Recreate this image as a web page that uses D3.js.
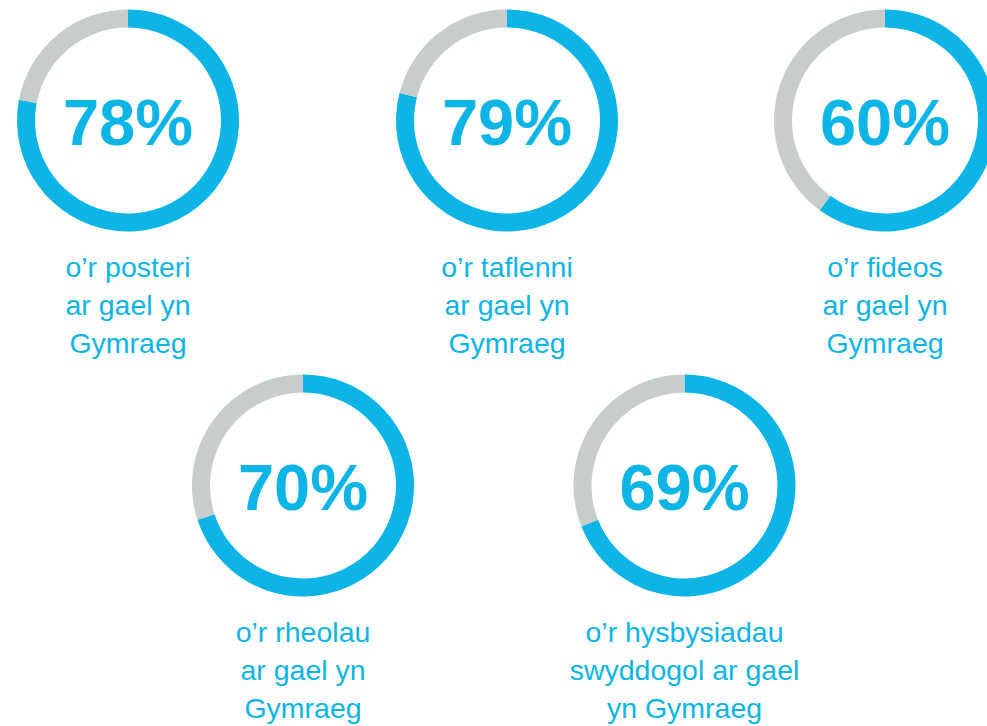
<!DOCTYPE html>
<html>
<head>
<meta charset="utf-8">
<script src="https://cdn.jsdelivr.net/npm/d3@7"></script>
<style>
  html, body { margin: 0; padding: 0; background: #ffffff; }
  svg { display: block; }
</style>
</head>
<body>
<svg id="chart" width="987" height="726"></svg>
<script>
// Share of materials available in Welsh
const categories = ["posteri", "taflenni", "fideos", "rheolau", "hysbysiadau"];
const values = [78, 79, 60, 70, 69];
const captions = [
  ["o’r posteri", "ar gael yn", "Gymraeg"],
  ["o’r taflenni", "ar gael yn", "Gymraeg"],
  ["o’r fideos", "ar gael yn", "Gymraeg"],
  ["o’r rheolau", "ar gael yn", "Gymraeg"],
  ["o’r hysbysiadau", "swyddogol ar gael", "yn Gymraeg"]
];
const ringCentres = [[128, 120.5], [507, 120.5], [885, 120.5], [303, 485.5], [684.5, 485.5]];

const blue = "#0db4e6";
const grey = "#c7cccc";
const outerR = 111, innerR = 93;

const svg = d3.select("#chart");

const pie = d3.pie().sort(null).value(d => d);
const arc = d3.arc().innerRadius(innerR).outerRadius(outerR);

categories.forEach((c, i) => {
  const [cx, cy] = ringCentres[i];
  const g = svg.append("g").attr("transform", `translate(${cx},${cy})`);
  const parts = pie([values[i], 100 - values[i]]);
  g.selectAll("path")
    .data(parts)
    .join("path")
    .attr("d", arc)
    .attr("fill", (d, j) => j === 0 ? blue : grey);

  g.append("text")
    .attr("text-anchor", "middle")
    .attr("y", 24)
    .attr("fill", blue)
    .style("font-family", "'Liberation Sans', Arial, sans-serif")
    .style("font-weight", "bold")
    .style("font-size", "65px")
    .text(values[i] + "%");

  g.append("g")
    .selectAll("text")
    .data(captions[i])
    .join("text")
    .attr("text-anchor", "middle")
    .attr("y", (d, k) => 156 + k * 38.3)
    .attr("fill", blue)
    .style("font-family", "'Liberation Sans', Arial, sans-serif")
    .style("font-size", "28.5px")
    .text(d => d);
});
</script>
</body>
</html>
